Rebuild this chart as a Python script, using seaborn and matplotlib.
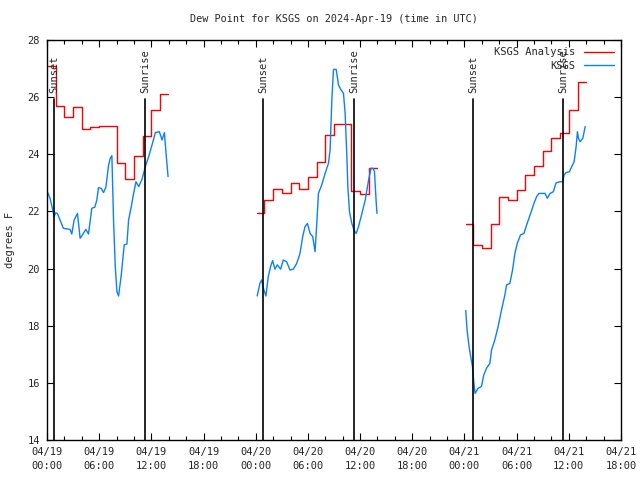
import numpy as np
import pandas as pd
import matplotlib
matplotlib.use('Agg')
import matplotlib.pyplot as plt
import matplotlib.dates as mdates
import seaborn as sns

sns.set_style('ticks')
plt.rcParams['font.family'] = ['DejaVu Sans Mono', 'DejaVu Sans']
plt.rcParams['font.size'] = 7.5

t0 = pd.Timestamp('2024-04-19 00:00')

# KSGS observations, hours since 04/19 00:00 UTC
obs1_h = [0.08, 0.35, 0.62, 0.81, 1.0, 1.19, 1.5, 1.88, 2.65, 2.85, 3.12, 3.5, 3.81, 4.08, 4.46, 4.77,
          5.15, 5.5, 5.73, 5.92, 6.23, 6.5, 6.77, 7.08, 7.27, 7.46, 7.65, 7.85, 8.04, 8.23, 8.54, 8.88,
          9.19, 9.38, 9.69, 9.96, 10.23, 10.54, 10.92, 11.31, 11.69, 12.08, 12.46, 12.92, 13.23, 13.5,
          13.69, 13.92]
obs1_v = [22.66, 22.46, 22.11, 21.82, 21.95, 21.93, 21.7, 21.41, 21.37, 21.21, 21.7, 21.93, 21.06, 21.18,
          21.37, 21.21, 22.11, 22.15, 22.4, 22.83, 22.81, 22.66, 22.85, 23.62, 23.86, 23.95, 21.7, 20.07,
          19.19, 19.04, 19.78, 20.83, 20.86, 21.7, 22.17, 22.63, 23.04, 22.87, 23.12, 23.57, 23.92, 24.33,
          24.76, 24.79, 24.5, 24.76, 24.03, 23.22]
obs2_h = [24.17, 24.48, 24.67, 24.94, 25.17, 25.44, 25.71, 25.94, 26.21, 26.48, 26.86, 27.17, 27.55, 27.94,
          28.32, 28.71, 29.09, 29.4, 29.67, 29.94, 30.25, 30.55, 30.82, 31.02, 31.21, 31.59, 31.98, 32.36,
          32.55, 32.75, 32.94, 33.25, 33.52, 33.78, 34.09, 34.28, 34.48, 34.59, 34.78, 35.05, 35.32, 35.55,
          35.82, 36.21, 36.59, 36.98, 37.25, 37.48, 37.65, 37.86, 37.94]
obs2_v = [19.04, 19.48, 19.6, 19.25, 19.04, 19.72, 20.07, 20.28, 19.98, 20.13, 19.98, 20.3, 20.24, 19.95,
          19.98, 20.18, 20.53, 21.12, 21.47, 21.58, 21.23, 21.12, 20.59, 21.58, 22.63, 22.93, 23.33, 23.68,
          24.15, 25.9, 26.97, 26.97, 26.42, 26.27, 26.13, 25.43, 23.92, 22.87, 21.99, 21.58, 21.33, 21.23,
          21.47, 21.93, 22.4, 23.1, 23.51, 23.51, 23.4, 22.28, 21.93]
obs3_h = [48.15, 48.3, 48.53, 48.72, 48.92, 49.07, 49.22, 49.57, 49.95, 50.22, 50.53, 50.92, 51.11, 51.49,
          51.87, 52.26, 52.65, 52.84, 53.22, 53.53, 53.8, 54.07, 54.45, 54.84, 55.15, 55.61, 55.99, 56.3,
          56.57, 57.26, 57.53, 57.84, 58.22, 58.53, 58.99, 59.3, 59.45, 59.68, 60.07, 60.34, 60.61, 60.84,
          60.99, 61.11, 61.3, 61.61, 61.88]
obs3_v = [18.53, 17.85, 17.27, 16.92, 16.57, 16.04, 15.63, 15.81, 15.87, 16.27, 16.51, 16.68, 17.15, 17.5,
          17.97, 18.55, 19.08, 19.43, 19.48, 19.95, 20.53, 20.88, 21.18, 21.23, 21.53, 21.93, 22.28, 22.52,
          22.63, 22.63, 22.46, 22.63, 22.69, 23.0, 23.04, 23.04, 23.27, 23.36, 23.39, 23.57, 23.74, 24.27,
          24.79, 24.56, 24.44, 24.56, 24.97]

# KSGS analysis, hourly values (start / end of each run in hours)
ana1_v = [27.1, 25.7, 25.3, 25.65, 24.9, 24.95, 25.0, 25.0, 23.7, 23.15, 23.95, 24.65, 25.55, 26.1]
ana2_v = [21.93, 22.4, 22.77, 22.63, 22.98, 22.77, 23.22, 23.72, 24.67, 25.05, 25.05, 22.72, 22.6, 23.51]
ana3_v = [21.55, 20.82, 20.71, 21.55, 22.52, 22.4, 22.75, 23.26, 23.59, 24.11, 24.56, 24.76, 25.55, 26.52]
ana_start = [0.15, 24.17, 48.16]
ana_end = [13.9, 37.9, 61.95]

sunset_h = [0.84, 24.86, 49.0]
sunrise_h = [11.26, 35.32, 59.34]

RED = '#ff0000'
BLUE = '#0a80ff'


def to_time(hours):
    return t0 + pd.to_timedelta(np.asarray(hours), unit='h')


fig = plt.figure(figsize=(6.4, 4.8), dpi=100)
ax = fig.add_axes([47/640, 40/480, 574/640, 400/480])

# analysis: hourly steps
for k, vals in enumerate([ana1_v, ana2_v, ana3_v]):
    base = int(ana_start[k])
    hrs = [ana_start[k]] + [base + i for i in range(1, len(vals))] + [ana_end[k]]
    df = pd.DataFrame({'time': to_time(hrs), 'val': vals + [vals[-1]]})
    sns.lineplot(data=df, x='time', y='val', color=RED, lw=1.0, drawstyle='steps-post',
                 label='KSGS Analysis' if k == 0 else None, ax=ax, sort=False)

# observations
for k, (h, v) in enumerate([(obs1_h, obs1_v), (obs2_h, obs2_v), (obs3_h, obs3_v)]):
    df = pd.DataFrame({'time': to_time(h), 'val': v})
    sns.lineplot(data=df, x='time', y='val', color=BLUE, lw=1.0,
                 label='KSGS' if k == 0 else None, ax=ax, sort=False)

# sunset / sunrise markers
for name, hrs in [('Sunset', sunset_h), ('Sunrise', sunrise_h)]:
    for t in to_time(hrs):
        ax.plot([t, t], [14, 25.95], color='black', lw=1.2)
        ax.text(t, 26.15, name, rotation=90, ha='center', va='bottom', fontsize=7.5)

ax.set_xlim(t0, t0 + pd.Timedelta(hours=66))
ax.set_ylim(14, 28)
ax.set_yticks(np.arange(14, 29, 2))
ax.xaxis.set_major_locator(mdates.HourLocator(byhour=[0, 6, 12, 18]))
ax.xaxis.set_minor_locator(mdates.HourLocator(byhour=range(0, 24, 2)))
ax.xaxis.set_major_formatter(mdates.DateFormatter('%m/%d\n%H:%M'))
ax.tick_params(which='both', direction='in', top=True, right=True, color='black', width=0.8)
ax.tick_params(which='major', length=5, pad=5, labelsize=7.5)
ax.tick_params(which='minor', length=3)
for lab in ax.get_xticklabels():
    lab.set_linespacing(1.5)
for s in ax.spines.values():
    s.set_color('black')
    s.set_linewidth(1.0)
ax.set_xlabel('')
ax.set_ylabel('')

leg = ax.legend(loc='upper right', bbox_to_anchor=(1.0, 1.0), frameon=False, markerfirst=False,
                handlelength=2.9, handletextpad=0.8, labelspacing=0.35, borderaxespad=0.3,
                fontsize=7.5)

fig.text(334/640, 1 - 19/480, 'Dew Point for KSGS on 2024-Apr-19 (time in UTC)',
         ha='center', va='center', fontsize=7.3)
fig.text(10/640, 0.5, 'degrees F', rotation=90, ha='center', va='center', fontsize=7.5)

fig.savefig('out.png', dpi=100)
